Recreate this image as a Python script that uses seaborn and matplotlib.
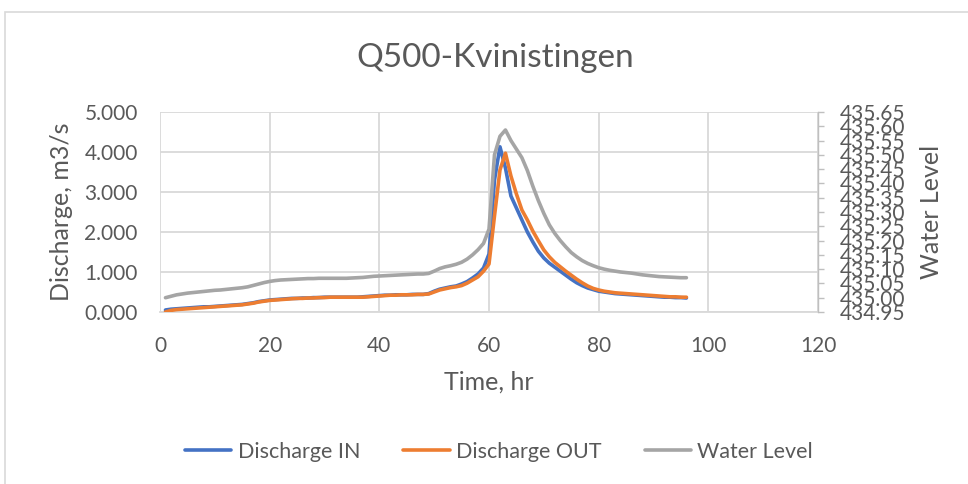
import numpy as np
import pandas as pd
import matplotlib
matplotlib.use("Agg")
import matplotlib.pyplot as plt
from matplotlib.patches import Rectangle
from matplotlib.lines import Line2D
import seaborn as sns

time_hr = list(range(1, 97))

discharge_in = [
    0.05, 0.07, 0.08, 0.09, 0.10, 0.11, 0.12, 0.13, 0.13, 0.14,
    0.15, 0.16, 0.17, 0.18, 0.19, 0.21, 0.23, 0.26, 0.28, 0.30,
    0.31, 0.32, 0.33, 0.34, 0.34, 0.35, 0.35, 0.36, 0.36, 0.37,
    0.37, 0.37, 0.37, 0.37, 0.37, 0.37, 0.38, 0.39, 0.40, 0.41,
    0.42, 0.42, 0.43, 0.43, 0.43, 0.44, 0.44, 0.44, 0.46, 0.52,
    0.57, 0.60, 0.63, 0.65, 0.70, 0.76, 0.85, 0.95, 1.10, 1.45,
    3.30, 4.13, 3.60, 2.90, 2.60, 2.30, 2.00, 1.75, 1.52, 1.35,
    1.22, 1.12, 1.02, 0.92, 0.82, 0.73, 0.66, 0.60, 0.56, 0.52,
    0.50, 0.48, 0.46, 0.45, 0.44, 0.43, 0.42, 0.41, 0.40, 0.39,
    0.38, 0.37, 0.37, 0.36, 0.36, 0.35,
]

discharge_out = [
    0.00, 0.04, 0.06, 0.07, 0.08, 0.09, 0.10, 0.11, 0.12, 0.13,
    0.14, 0.15, 0.16, 0.17, 0.18, 0.20, 0.22, 0.25, 0.27, 0.29,
    0.30, 0.31, 0.32, 0.33, 0.34, 0.34, 0.35, 0.35, 0.36, 0.36,
    0.37, 0.37, 0.37, 0.37, 0.37, 0.37, 0.37, 0.38, 0.39, 0.40,
    0.41, 0.42, 0.42, 0.43, 0.43, 0.43, 0.44, 0.44, 0.45, 0.50,
    0.55, 0.58, 0.61, 0.63, 0.66, 0.72, 0.80, 0.88, 1.02, 1.20,
    2.40, 3.55, 3.97, 3.40, 2.95, 2.55, 2.30, 2.02, 1.78, 1.55,
    1.38, 1.24, 1.13, 1.02, 0.92, 0.82, 0.73, 0.65, 0.59, 0.55,
    0.52, 0.50, 0.48, 0.47, 0.46, 0.45, 0.44, 0.43, 0.42, 0.41,
    0.40, 0.39, 0.38, 0.38, 0.37, 0.37,
]

water_level = [
    435.000, 435.005, 435.010, 435.013, 435.016, 435.018, 435.020, 435.022, 435.024, 435.026,
    435.027, 435.029, 435.031, 435.033, 435.035, 435.038, 435.043, 435.048, 435.053, 435.057,
    435.060, 435.062, 435.063, 435.064, 435.065, 435.066, 435.067, 435.067, 435.068, 435.068,
    435.068, 435.068, 435.068, 435.068, 435.069, 435.070, 435.071, 435.073, 435.075, 435.076,
    435.077, 435.078, 435.079, 435.080, 435.081, 435.082, 435.083, 435.083, 435.085, 435.093,
    435.102, 435.108, 435.112, 435.117, 435.124, 435.135, 435.150, 435.168, 435.190, 435.240,
    435.500, 435.565, 435.587, 435.550, 435.520, 435.490, 435.445, 435.390, 435.340, 435.295,
    435.255, 435.225, 435.200, 435.178, 435.158, 435.143, 435.130, 435.120, 435.112, 435.105,
    435.100, 435.096, 435.093, 435.090, 435.088, 435.086, 435.083, 435.080, 435.078, 435.076,
    435.074, 435.073, 435.072, 435.071, 435.070, 435.070,
]

x_ticks = [0, 20, 40, 60, 80, 100, 120]
left_ticks = [0, 1, 2, 3, 4, 5]
right_ticks = [434.95, 435.00, 435.05, 435.10, 435.15, 435.20, 435.25, 435.30,
               435.35, 435.40, 435.45, 435.50, 435.55, 435.60, 435.65]

title = "Q500-Kvinistingen"
series_names = ["Discharge IN", "Discharge OUT", "Water Level"]

sns.set_theme(style="white")
plt.rcParams["font.family"] = ["Lato", "DejaVu Sans"]

TXT = "#595959"
GRID = "#D9D9D9"
C_IN, C_OUT, C_WL = "#4472C4", "#ED7D31", "#A5A5A5"

df = pd.DataFrame({"t": time_hr, "qin": discharge_in, "qout": discharge_out, "wl": water_level})

fig = plt.figure(figsize=(9.68, 4.84), dpi=100)
ax = fig.add_axes([160 / 968, (484 - 312) / 484, 658 / 968, 200 / 484])
ax2 = ax.twinx()

sns.lineplot(data=df, x="t", y="qin", ax=ax, color=C_IN, linewidth=2.6, zorder=3)
sns.lineplot(data=df, x="t", y="qout", ax=ax, color=C_OUT, linewidth=2.6, zorder=4)
sns.lineplot(data=df, x="t", y="wl", ax=ax2, color=C_WL, linewidth=2.6, zorder=5)

ax.set_xlim(0, 120)
ax.set_ylim(0, 5)
ax.set_xticks(x_ticks)
ax.set_xticklabels([str(v) for v in x_ticks])
ax.set_yticks(left_ticks)
ax.set_yticklabels([f"{v:.3f}" for v in left_ticks])
ax.grid(True, color=GRID, linewidth=1.3)
ax.set_axisbelow(True)

ax2.set_ylim(434.95, 435.65)
ax2.set_yticks(right_ticks)
ax2.set_yticklabels([f"{v:.2f}" for v in right_ticks])
ax2.grid(False)

for a in (ax, ax2):
    for s in a.spines.values():
        s.set_visible(False)
ax.spines["bottom"].set_visible(True)
ax.spines["bottom"].set_color(GRID)
ax.spines["bottom"].set_linewidth(1.3)
ax2.spines["right"].set_visible(True)
ax2.spines["right"].set_color("#BFBFBF")
ax2.spines["right"].set_linewidth(1.0)

ax.tick_params(axis="x", colors=TXT, labelsize=15, length=0, pad=17)
ax.tick_params(axis="y", colors=TXT, labelsize=15, length=0, pad=16)
ax2.tick_params(axis="y", colors=TXT, labelsize=15, length=4.5, width=1.0, direction="out",
                pad=11)
ax2.tick_params(axis="y", color="#BFBFBF")

ax.set_xlabel("Time, hr", color=TXT, fontsize=18, labelpad=11)
ax.set_ylabel("Discharge, m3/s", color=TXT, fontsize=18, labelpad=8)
ax2.set_ylabel("Water Level", color=TXT, fontsize=18, labelpad=11)

fig.text(495 / 968, 1 - 58 / 484, title, ha="center", va="center", color=TXT, fontsize=24)

handles = [Line2D([0], [0], color=c, linewidth=2.6) for c in (C_IN, C_OUT, C_WL)]
fig.legend(handles, series_names, loc="center", bbox_to_anchor=(499 / 968, 1 - 452 / 484),
           ncol=3, frameon=False, fontsize=15.5, labelcolor=TXT, handlelength=2.15,
           handletextpad=0.3, columnspacing=2.0)

fig.add_artist(Rectangle((5 / 968, -0.1), 1.2, 0.1 + (484 - 12) / 484, transform=fig.transFigure,
                         fill=False, edgecolor=GRID, linewidth=1.2))

fig.savefig("out.png", dpi=100)
